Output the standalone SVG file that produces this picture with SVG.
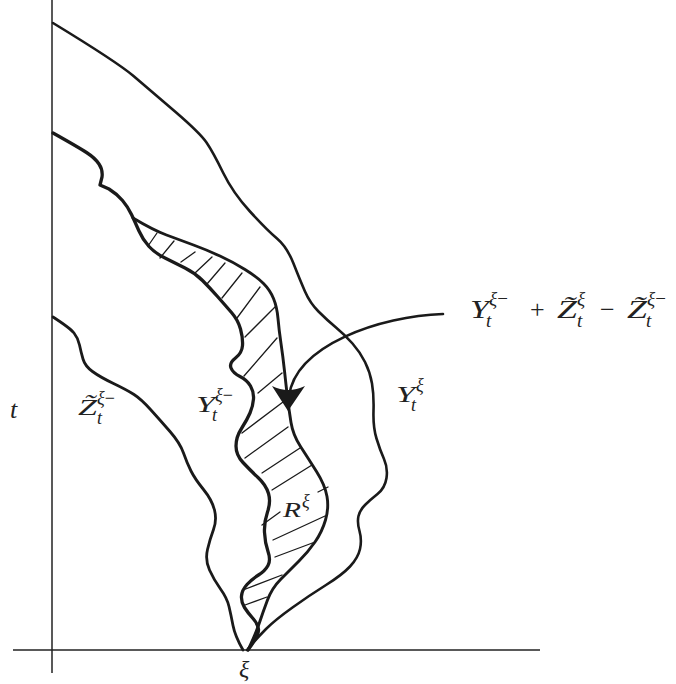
<svg xmlns="http://www.w3.org/2000/svg" width="676" height="684" viewBox="0 0 676 684">
<style>
.axis{fill:none;stroke:#222;stroke-width:1.5}
.curve{fill:none;stroke:#1a1a1a;stroke-linecap:round;stroke-linejoin:round}
.hatch{fill:none;stroke:#1a1a1a;stroke-width:1.3;stroke-linecap:round}
.lbl{font-family:"Liberation Serif","DejaVu Serif",serif;fill:#222}
.it{font-style:italic}
</style>
<rect width="676" height="684" fill="#fff"/>
<g id="axes">
<line class="axis" x1="52" y1="0" x2="52" y2="673"/>
<line class="axis" x1="13" y1="650" x2="540" y2="650"/>
</g>
<g id="curves">
<path id="curve-Y" class="curve" stroke-width="2.6" d="M53,23 Q117,62 133.5,76 Q150,90 175,111.5 Q200,133 206.5,142.5 Q213,152 223,172.5 Q233,193 250,211.5 Q267,230 277,238.5 Q287,247 293.5,263.5 Q300,280 305,291.5 Q310,303 318.5,311.5 Q327,320 336,327.5 Q345,335 352.5,343.5 Q360,352 365,362 Q370,372 372,383.5 Q374,395 373.5,411 Q373,427 376.5,438.5 Q380,450 384,459 Q388,468 386.5,478 Q385,488 377.5,494 Q370,500 365,505 Q360,510 358.5,516 Q357,522 359.5,531 Q362,540 360,549 Q358,558 350,566.5 Q342,575 326,585 Q310,595 292.5,607.5 Q275,620 266,629 Q257,638 247,650"/>
<path id="curve-Yminus" class="curve" stroke-width="3.3" d="M53,133 Q78,147 86.5,152.5 Q95,158 99,164 Q103,170 102,177 L100,185 L109,189 Q117,194 122.5,200.5 Q128,207 131.5,214.5 Q135,222 139,231 Q143,240 149,246.5 Q155,253 165,258 Q175,263 185,268 Q195,273 202.5,280.5 Q210,288 217.5,296.5 Q225,305 231.5,312.5 Q238,320 240.5,329 Q243,338 242.5,345.5 Q242,353 235.5,358 Q229,363 231,368 Q233,373 240,376.5 Q247,380 250.5,386 Q254,392 253.5,399 Q253,406 250,413 Q247,420 241.5,428.5 Q236,437 236,446 Q236,455 243,462.5 Q250,470 258,477.5 Q266,485 268.5,493.5 Q271,502 267.5,512 Q264,522 264.5,532.5 Q265,543 268,551.5 Q271,560 268,565.5 Q265,571 258.5,575 Q252,579 247,584.5 Q242,590 241.5,596 Q241,602 244.5,607.5 Q248,613 253,618.5 Q258,624 258.5,629.5 Q259,635 248,650"/>
<path id="curve-Z" class="curve" stroke-width="2.8" d="M53,317 Q70,328 74,333 Q78,338 79.5,345 Q81,352 83,359 Q85,366 92.5,371.5 Q100,377 113.5,383.5 Q127,390 134,394.5 Q141,399 150.5,409.5 Q160,420 170,431.5 Q180,443 183.5,453 Q187,463 191,471 Q195,479 203.5,489.5 Q212,500 214.5,510 Q217,520 213.5,529.5 Q210,539 207.5,549.5 Q205,560 209.5,570 Q214,580 220.5,589 Q227,598 229,606.5 Q231,615 233,625.5 Q235,636 243,650"/>
<path id="curve-sum" class="curve" stroke-width="2.9" d="M133,218 Q153,230 166.5,235 Q180,240 193.5,245 Q207,250 220,256 Q233,262 245,269.5 Q257,277 263.5,283.5 Q270,290 273.5,298.5 Q277,307 278,318.5 Q279,330 281,343.5 Q283,357 284.5,371 Q286,385 287.5,397.5 Q289,410 291,422.5 Q293,435 300.5,446.5 Q308,458 316.5,471.5 Q325,485 327,496.5 Q329,508 325.5,520 Q322,532 315,542 Q308,552 299,561 Q290,570 281,579 Q272,588 267.5,600 Q263,612 259.5,622.5 Q256,633 248,650"/>
</g>
<g id="hatching">
<line class="hatch" x1="148" y1="246" x2="157" y2="233"/>
<line class="hatch" x1="160" y1="258" x2="174" y2="241"/>
<line class="hatch" x1="181" y1="262" x2="195" y2="252"/>
<line class="hatch" x1="195" y1="273" x2="212" y2="257"/>
<line class="hatch" x1="207" y1="284" x2="225" y2="263"/>
<line class="hatch" x1="222" y1="298" x2="242" y2="273"/>
<line class="hatch" x1="237" y1="318" x2="260" y2="287"/>
<line class="hatch" x1="245" y1="337" x2="275" y2="307"/>
<line class="hatch" x1="244" y1="376" x2="277" y2="338"/>
<line class="hatch" x1="258" y1="393" x2="282" y2="373"/>
<line class="hatch" x1="242" y1="433" x2="283" y2="402"/>
<line class="hatch" x1="245" y1="458" x2="288" y2="427"/>
<line class="hatch" x1="262" y1="473" x2="300" y2="448"/>
<line class="hatch" x1="272" y1="490" x2="312" y2="465"/>
<line class="hatch" x1="318" y1="492" x2="328" y2="487"/>
<line class="hatch" x1="262" y1="525" x2="280" y2="512"/>
<line class="hatch" x1="273" y1="540" x2="325" y2="516"/>
<line class="hatch" x1="275" y1="557" x2="315" y2="542"/>
<line class="hatch" x1="243" y1="590" x2="282" y2="575"/>
<line class="hatch" x1="245" y1="605" x2="267" y2="597"/>
</g>
<g id="connectors">
<path id="arrow-line" class="curve" stroke-width="2.6" d="M443,314 C380,316 296,345 289,396"/>
<path id="arrow-head" d="M288,411 L272,386 Q288,394 305,386 Z" fill="#1a1a1a"/>
</g>
<g id="labels">
<text id="lbl-t" class="lbl it" x="10" y="418" font-size="26">t</text>
<g id="lbl-Zminus">
<text class="lbl it" x="78" y="415" font-size="23" textLength="19" lengthAdjust="spacingAndGlyphs">Z&#x303;</text>
<text class="lbl" x="97" y="404" font-size="18"><tspan class="it">ξ</tspan>−</text>
<text class="lbl it" x="97" y="424" font-size="18">t</text>
</g>
<g id="lbl-Yminus">
<text class="lbl it" x="196" y="412" font-size="23" textLength="19" lengthAdjust="spacingAndGlyphs">Y</text>
<text class="lbl" x="215" y="401" font-size="18"><tspan class="it">ξ</tspan>−</text>
<text class="lbl it" x="212" y="421" font-size="18">t</text>
</g>
<g id="lbl-Y">
<text class="lbl it" x="396" y="402" font-size="23" textLength="19" lengthAdjust="spacingAndGlyphs">Y</text>
<text class="lbl it" x="416" y="391" font-size="18">ξ</text>
<text class="lbl it" x="411" y="411" font-size="18">t</text>
</g>
<g id="lbl-R">
<text class="lbl it" x="283" y="517" font-size="22" textLength="18" lengthAdjust="spacingAndGlyphs">R</text>
<text class="lbl it" x="302" y="507" font-size="18">ξ</text>
</g>
<g id="lbl-sum">
<text class="lbl it" x="470" y="318" font-size="26" textLength="19" lengthAdjust="spacingAndGlyphs">Y</text>
<text class="lbl" x="489" y="305" font-size="19"><tspan class="it">ξ</tspan>−</text>
<text class="lbl it" x="486" y="327" font-size="19">t</text>
<text class="lbl" x="530" y="318" font-size="26">+</text>
<text class="lbl it" x="557" y="318" font-size="26" textLength="20" lengthAdjust="spacingAndGlyphs">Z&#x303;</text>
<text class="lbl it" x="577" y="305" font-size="19">ξ</text>
<text class="lbl it" x="577" y="327" font-size="19">t</text>
<text class="lbl" x="600" y="318" font-size="26">−</text>
<text class="lbl it" x="627" y="318" font-size="26" textLength="20" lengthAdjust="spacingAndGlyphs">Z&#x303;</text>
<text class="lbl" x="647" y="305" font-size="19"><tspan class="it">ξ</tspan>−</text>
<text class="lbl it" x="646" y="327" font-size="19">t</text>
</g>
<text id="lbl-xi" class="lbl it" x="239" y="677" font-size="24">ξ</text>
</g>
</svg>
